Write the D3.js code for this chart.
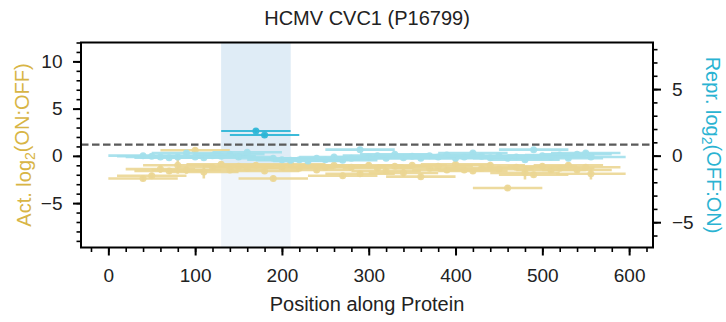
<!DOCTYPE html>
<html>
<head>
<meta charset="utf-8">
<script src="https://cdn.jsdelivr.net/npm/d3@7"></script>
<style>
  html, body { margin: 0; padding: 0; background: #fff; }
  svg { display: block; font-family: "Liberation Sans", Arial, Helvetica, sans-serif; }
</style>
</head>
<body>
<svg id="chart" width="726" height="322"></svg>
<script>
// Tile centres (amino-acid position) for the 80-aa tiles along the protein
const tileCenters = [40, 50, 60, 70, 80, 90, 100, 110, 120, 130, 140, 150, 160, 170, 180, 190,
  200, 210, 220, 230, 240, 250, 260, 270, 280, 290, 300, 310, 320, 330, 340, 350, 360, 370,
  380, 390, 400, 410, 420, 430, 440, 450, 460, 470, 480, 490, 500, 510, 520, 530, 540, 550, 556];
const tileLength = 80;

// Activation: log2(ON:OFF), left axis
const actValues = [-2.4, -2.1, -1.4, -1.6, -1.0, -1.5, 0.6, -1.7, -1.2, -0.9, -1.5, -1.1, -1.3, -1.0, -1.6, -2.4,
  -1.2, -0.9, -1.3, -1.0, -1.5, -1.2, -1.0, -2.1, -1.2, -1.9, -1.0, -1.3, -1.6, -1.1, -1.8, -1.0, -2.2, -1.3,
  -1.1, -1.5, -0.9, -1.5, -1.6, -1.3, -1.0, -1.4, -3.4, -1.2, -1.8, -2.0, -1.1, -1.5, -1.3, -1.0, -1.5, -1.2, -1.9];
const actErrors = [0.3, 0.3, 0.4, 0.3, 0.9, 0.4, 0.3, 0.7, 0.3, 0.3, 0.3, 0.3, 0.3, 0.3, 0.3, 0.3,
  0.3, 0.3, 0.3, 0.3, 0.3, 0.3, 0.3, 0.3, 0.3, 0.3, 0.3, 0.3, 0.3, 0.3, 0.4, 0.3, 0.3, 0.3,
  0.3, 0.3, 0.3, 0.3, 0.3, 0.3, 0.3, 0.3, 0.3, 0.3, 0.7, 0.3, 0.3, 0.3, 0.3, 0.3, 0.3, 0.3, 0.6];

// Repression: log2(OFF:ON), right axis
const reprValues = [0.0, -0.05, -0.1, -0.15, -0.1, 0.2, -0.1, -0.15, 0.0, -0.05, 0.1, -0.1, 0.25, 1.85, 1.55, -0.2,
  -0.3, -0.35, -0.3, -0.4, -0.2, -0.3, -0.1, -0.35, -0.2, 0.45, -0.1, 0.0, -0.2, 0.1, -0.15, -0.05, -0.2, 0.0,
  -0.1, 0.05, -0.2, -0.1, 0.2, -0.05, -0.15, 0.0, -0.2, -0.1, -0.3, 0.45, 0.0, -0.1, 0.05, -0.2, 0.1, 0.2, -0.1];
const reprErrors = tileCenters.map(() => 0.15);

// Hit cut-off (right axis units), dashed guide level (left axis units), highlighted region
const reprHitCutoff = 1.0;
const guideLevel = 1.18;
const regionStart = 130, regionEnd = 210;

// Axis ticks
const xMajorTicks = [0, 100, 200, 300, 400, 500, 600];
const xMinorTicks = d3.range(-20, 621, 20);
const yLeftMajorTicks = [-5, 0, 5, 10];
const yLeftMinorTicks = d3.range(-9, 13, 1);
const yRightMajorTicks = [-5, 0, 5];
const yRightMinorTicks = d3.range(-6, 9, 1);

const titleText = "HCMV CVC1 (P16799)";
const xLabelText = "Position along Protein";

const actColor = "#ebd694";
const reprLightColor = "#a3dfec";
const reprHitColor = "#2bb5d6";

const svg = d3.select("#chart");
const plot = { left: 81, right: 653, top: 42.5, bottom: 247.5 };

const x = d3.scaleLinear().domain([-31.5, 627.5]).range([plot.left, plot.right]);
const yL = d3.scaleLinear().domain([-9.7, 12]).range([plot.bottom, plot.top]);
const yR = d3.scaleLinear().domain([-6.9, 8.5]).range([plot.bottom, plot.top]);

// Highlighted region
const regionSplit = yL(-1.0);
svg.append("rect")
  .attr("x", x(regionStart)).attr("width", x(regionEnd) - x(regionStart))
  .attr("y", plot.top).attr("height", plot.bottom - plot.top)
  .attr("fill", "#f0f5fa");
svg.append("rect")
  .attr("x", x(regionStart)).attr("width", x(regionEnd) - x(regionStart))
  .attr("y", plot.top).attr("height", regionSplit - plot.top)
  .attr("fill", "#dfecf6");

// Dashed guide
svg.append("line")
  .attr("x1", plot.left).attr("x2", plot.right)
  .attr("y1", yL(guideLevel)).attr("y2", yL(guideLevel))
  .attr("stroke", "#5a5a5a").attr("stroke-width", 2.2)
  .attr("stroke-dasharray", "7.5,3.5");

function drawSeries(g, values, errors, yScale, colorFn, opacity, widthFn) {
  const rows = tileCenters.map((c, i) => ({ c, v: values[i], e: errors[i], i }));
  const grp = g.selectAll("g.pt").data(rows).join("g").attr("class", "pt");
  grp.append("line")
    .attr("x1", d => x(d.c - tileLength / 2)).attr("x2", d => x(d.c + tileLength / 2))
    .attr("y1", d => yScale(d.v)).attr("y2", d => yScale(d.v))
    .attr("stroke", colorFn).attr("stroke-opacity", opacity).attr("stroke-width", widthFn);
  grp.append("line")
    .attr("x1", d => x(d.c)).attr("x2", d => x(d.c))
    .attr("y1", d => yScale(d.v - d.e)).attr("y2", d => yScale(d.v + d.e))
    .attr("stroke", colorFn).attr("stroke-opacity", opacity).attr("stroke-width", widthFn);
  grp.append("circle")
    .attr("cx", d => x(d.c)).attr("cy", d => yScale(d.v)).attr("r", 3.5)
    .attr("fill", colorFn).attr("fill-opacity", opacity);
  return grp;
}

svg.append("clipPath").attr("id", "plotclip").append("rect")
  .attr("x", plot.left).attr("y", plot.top)
  .attr("width", plot.right - plot.left).attr("height", plot.bottom - plot.top);

const actG = svg.append("g").attr("clip-path", "url(#plotclip)");
drawSeries(actG, actValues, actErrors, yL, () => actColor, 0.9, () => 2.6);

const reprG = svg.append("g").attr("clip-path", "url(#plotclip)");
const isHit = d => d.v > reprHitCutoff;
const reprPts = drawSeries(reprG, reprValues, reprErrors, yR,
  d => isHit(d) ? reprHitColor : reprLightColor, 0.92, d => isHit(d) ? 2 : 2.6);
reprPts.filter(isHit).raise();

// Axes
function styleAxis(g) {
  g.select(".domain").remove();
  g.selectAll("line").attr("stroke", "#000");
  g.selectAll("text").attr("fill", "#222").style("font-size", "19px")
    .style("font-family", "'Liberation Sans', Arial, sans-serif");
}
const signed = d => d < 0 ? "\u2212" + Math.abs(d) : String(d);

// Bottom
svg.append("g").attr("transform", `translate(0,${plot.bottom})`)
  .call(d3.axisBottom(x).tickValues(xMinorTicks).tickSize(4.5).tickFormat(""))
  .call(g => { styleAxis(g); g.selectAll("line").attr("stroke-width", 1.6); });
svg.append("g").attr("transform", `translate(0,${plot.bottom})`)
  .call(d3.axisBottom(x).tickValues(xMajorTicks).tickSize(8).tickPadding(13.2).tickFormat(d3.format("d")))
  .call(g => { styleAxis(g); g.selectAll("line").attr("stroke-width", 2); });

// Left
svg.append("g").attr("transform", `translate(${plot.left},0)`)
  .call(d3.axisLeft(yL).tickValues(yLeftMinorTicks).tickSize(4.5).tickFormat(""))
  .call(g => { styleAxis(g); g.selectAll("line").attr("stroke-width", 1.6); });
svg.append("g").attr("transform", `translate(${plot.left},0)`)
  .call(d3.axisLeft(yL).tickValues(yLeftMajorTicks).tickSize(8).tickPadding(10.5).tickFormat(signed))
  .call(g => { styleAxis(g); g.selectAll("line").attr("stroke-width", 2); });

// Right
svg.append("g").attr("transform", `translate(${plot.right},0)`)
  .call(d3.axisRight(yR).tickValues(yRightMinorTicks).tickSize(4.5).tickFormat(""))
  .call(g => { styleAxis(g); g.selectAll("line").attr("stroke-width", 1.6); });
svg.append("g").attr("transform", `translate(${plot.right},0)`)
  .call(d3.axisRight(yR).tickValues(yRightMajorTicks).tickSize(8).tickPadding(11).tickFormat(signed))
  .call(g => { styleAxis(g); g.selectAll("line").attr("stroke-width", 2); });

// Frame
svg.append("rect")
  .attr("x", plot.left).attr("y", plot.top)
  .attr("width", plot.right - plot.left).attr("height", plot.bottom - plot.top)
  .attr("fill", "none").attr("stroke", "#000").attr("stroke-width", 2);

// Title and axis labels
svg.append("text")
  .attr("x", (plot.left + plot.right) / 2).attr("y", 24.5)
  .attr("text-anchor", "middle").attr("fill", "#222").style("font-size", "20px")
  .text(titleText);

svg.append("text")
  .attr("x", (plot.left + plot.right) / 2).attr("y", 311)
  .attr("text-anchor", "middle").attr("fill", "#222").style("font-size", "20px")
  .text(xLabelText);

function labelWithSub(t, pre, sub, post) {
  t.append("tspan").text(pre);
  t.append("tspan").attr("dy", "0.28em").style("font-size", "14px").text(sub);
  t.append("tspan").attr("dy", "-0.28em").text(post);
}

const leftLabel = svg.append("text")
  .attr("transform", `translate(31,${(plot.top + plot.bottom) / 2}) rotate(-90)`)
  .attr("text-anchor", "middle").attr("fill", "#d8b545").style("font-size", "20px");
labelWithSub(leftLabel, "Act. log", "2", "(ON:OFF)");

const rightLabel = svg.append("text")
  .attr("transform", `translate(705.5,${(plot.top + plot.bottom) / 2}) rotate(90)`)
  .attr("text-anchor", "middle").attr("fill", "#2ab3d2").style("font-size", "20px");
labelWithSub(rightLabel, "Repr. log", "2", "(OFF:ON)");
</script>
</body>
</html>
